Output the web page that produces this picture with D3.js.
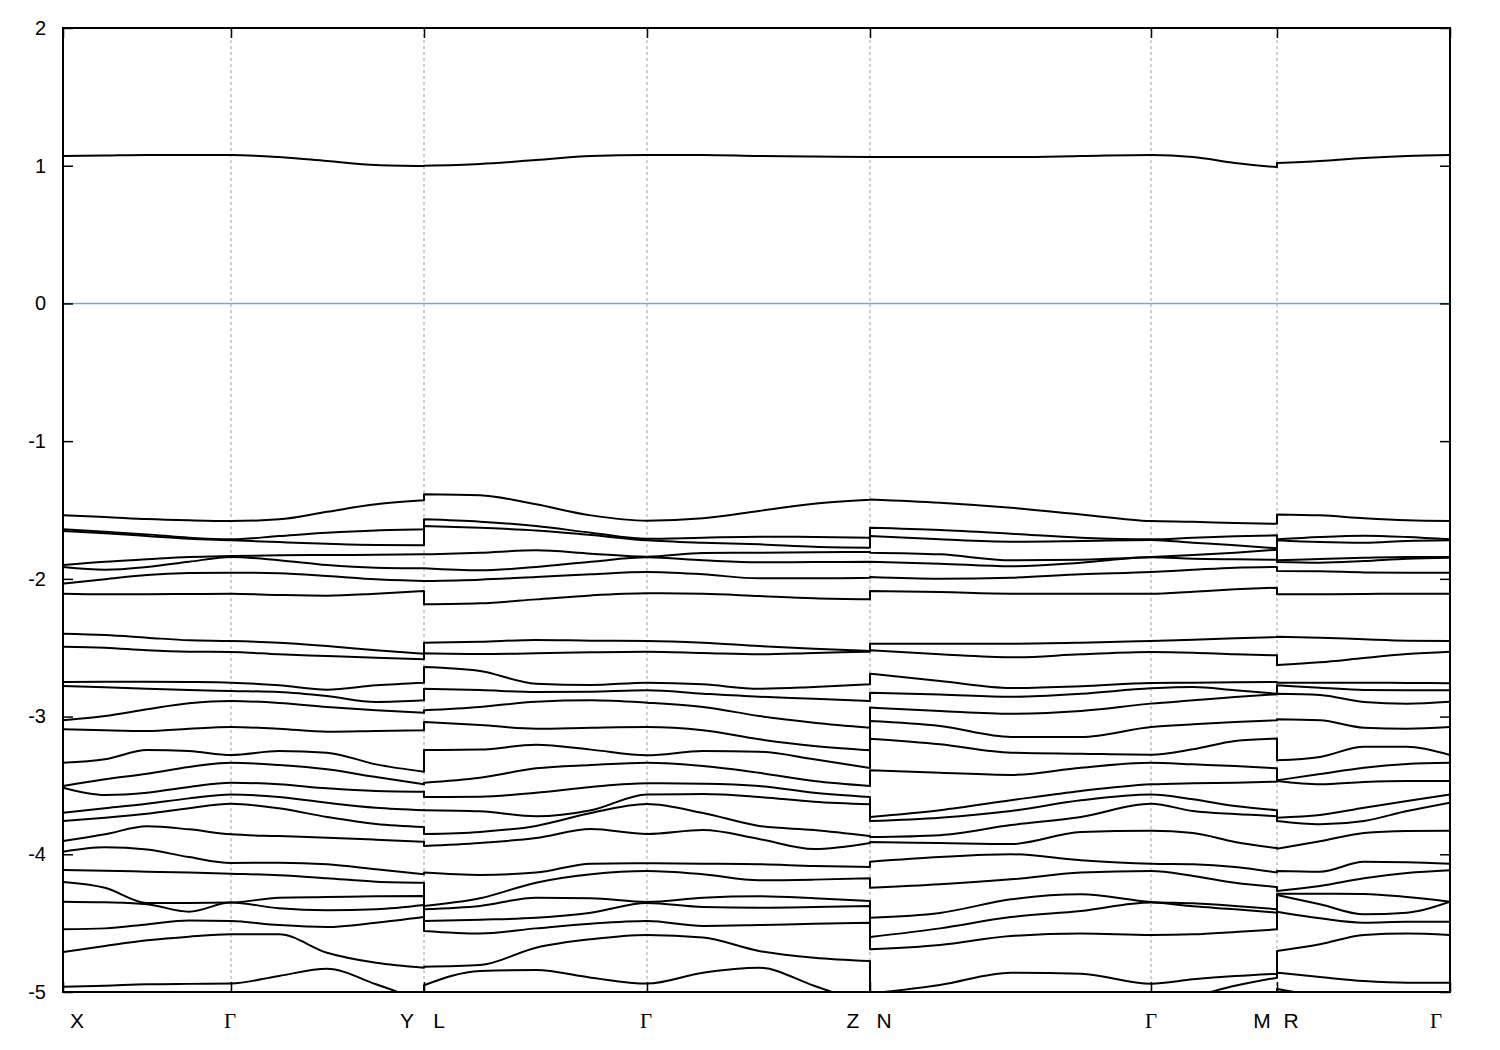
<!DOCTYPE html>
<html><head><meta charset="utf-8">
<script src="https://cdn.jsdelivr.net/npm/d3@7"></script>
<style>body{margin:0;background:#fff}</style>
</head><body><svg id="c" width="1500" height="1050"></svg>
<script>
// k-path sample positions per segment
const kXGY = [0, 0.42, 0.84, 1.26, 1.68, 2.16, 2.64, 3.13, 3.61];
const kLGZ = [3.61, 4.17, 4.73, 5.28, 5.84, 6.40, 6.96, 7.51, 8.07];
const kNGM = [8.07, 8.77, 9.48, 10.18, 10.88, 11.30, 11.72, 12.14];
const kRG  = [12.14, 12.57, 13.01, 13.44, 13.87];

// band energies (eV), band 0 = conduction band
const bandsXGY = [
 [1.070,1.074,1.078,1.078,1.078,1.063,1.034,1.005,0.998],
 [-1.539,-1.551,-1.566,-1.575,-1.580,-1.568,-1.513,-1.459,-1.430],
 [-1.640,-1.658,-1.677,-1.701,-1.713,-1.689,-1.665,-1.648,-1.640],
 [-1.653,-1.669,-1.689,-1.709,-1.720,-1.733,-1.745,-1.754,-1.756],
 [-1.900,-1.876,-1.858,-1.841,-1.834,-1.829,-1.827,-1.825,-1.822],
 [-1.914,-1.934,-1.914,-1.876,-1.841,-1.865,-1.900,-1.919,-1.923],
 [-2.035,-2.003,-1.972,-1.958,-1.955,-1.960,-1.979,-2.003,-2.016],
 [-2.108,-2.112,-2.112,-2.110,-2.108,-2.117,-2.122,-2.108,-2.088],
 [-2.398,-2.408,-2.427,-2.446,-2.451,-2.464,-2.488,-2.519,-2.544],
 [-2.493,-2.500,-2.519,-2.529,-2.531,-2.548,-2.560,-2.573,-2.584],
 [-2.749,-2.747,-2.747,-2.749,-2.754,-2.773,-2.805,-2.773,-2.754],
 [-2.778,-2.787,-2.798,-2.807,-2.814,-2.822,-2.851,-2.894,-2.882],
 [-3.027,-2.996,-2.947,-2.904,-2.887,-2.901,-2.930,-2.954,-2.972],
 [-3.092,-3.100,-3.105,-3.088,-3.076,-3.088,-3.110,-3.105,-3.100],
 [-3.335,-3.310,-3.243,-3.250,-3.279,-3.250,-3.262,-3.347,-3.400],
 [-3.504,-3.455,-3.415,-3.366,-3.335,-3.352,-3.383,-3.439,-3.492],
 [-3.516,-3.569,-3.553,-3.511,-3.480,-3.492,-3.521,-3.540,-3.545],
 [-3.698,-3.666,-3.633,-3.594,-3.565,-3.584,-3.626,-3.662,-3.680],
 [-3.758,-3.734,-3.705,-3.666,-3.633,-3.666,-3.729,-3.780,-3.802],
 [-3.904,-3.855,-3.797,-3.819,-3.855,-3.868,-3.880,-3.894,-3.909],
 [-3.981,-3.949,-3.966,-4.020,-4.063,-4.061,-4.072,-4.109,-4.145],
 [-4.114,-4.119,-4.126,-4.133,-4.141,-4.152,-4.174,-4.199,-4.206],
 [-4.201,-4.243,-4.353,-4.353,-4.351,-4.315,-4.310,-4.305,-4.302],
 [-4.344,-4.349,-4.363,-4.417,-4.351,-4.392,-4.406,-4.399,-4.368],
 [-4.545,-4.538,-4.509,-4.480,-4.485,-4.514,-4.528,-4.497,-4.456],
 [-4.710,-4.666,-4.625,-4.598,-4.581,-4.581,-4.715,-4.788,-4.824],
 [-4.961,-4.954,-4.944,-4.941,-4.939,-4.883,-4.832,-4.944,-5.070],
 [-5.200,-5.200,-5.200,-5.200,-5.200,-5.200,-5.200,-5.200,-5.200]
];
const bandsLGZ = [
 [1.000,1.013,1.041,1.070,1.078,1.078,1.070,1.067,1.063],
 [-1.386,-1.393,-1.459,-1.539,-1.578,-1.560,-1.507,-1.454,-1.425],
 [-1.568,-1.585,-1.616,-1.665,-1.709,-1.701,-1.694,-1.696,-1.701],
 [-1.616,-1.629,-1.648,-1.682,-1.720,-1.738,-1.749,-1.767,-1.774],
 [-1.822,-1.810,-1.793,-1.817,-1.839,-1.812,-1.810,-1.807,-1.805],
 [-1.923,-1.938,-1.914,-1.876,-1.844,-1.865,-1.880,-1.878,-1.876],
 [-2.016,-2.006,-1.987,-1.967,-1.950,-1.967,-1.996,-1.996,-1.992],
 [-2.185,-2.178,-2.149,-2.120,-2.105,-2.108,-2.125,-2.141,-2.149],
 [-2.464,-2.456,-2.444,-2.449,-2.451,-2.464,-2.488,-2.507,-2.524],
 [-2.541,-2.546,-2.541,-2.533,-2.529,-2.538,-2.548,-2.538,-2.529],
 [-2.640,-2.669,-2.762,-2.771,-2.754,-2.766,-2.798,-2.785,-2.766],
 [-2.798,-2.807,-2.822,-2.819,-2.809,-2.834,-2.856,-2.870,-2.887],
 [-2.954,-2.930,-2.892,-2.882,-2.899,-2.930,-2.996,-3.044,-3.081],
 [-3.039,-3.061,-3.088,-3.081,-3.076,-3.100,-3.165,-3.214,-3.245],
 [-3.243,-3.240,-3.205,-3.240,-3.281,-3.250,-3.255,-3.310,-3.373],
 [-3.480,-3.444,-3.376,-3.352,-3.335,-3.359,-3.408,-3.468,-3.504],
 [-3.584,-3.582,-3.553,-3.511,-3.484,-3.487,-3.504,-3.553,-3.584],
 [-3.680,-3.688,-3.724,-3.680,-3.565,-3.563,-3.584,-3.618,-3.637],
 [-3.853,-3.838,-3.794,-3.700,-3.635,-3.700,-3.794,-3.824,-3.868],
 [-3.940,-3.918,-3.882,-3.817,-3.853,-3.824,-3.889,-3.962,-3.918],
 [-4.133,-4.150,-4.133,-4.068,-4.065,-4.068,-4.072,-4.085,-4.092],
 [-4.375,-4.319,-4.206,-4.145,-4.121,-4.145,-4.189,-4.184,-4.174],
 [-4.399,-4.375,-4.315,-4.319,-4.346,-4.315,-4.305,-4.319,-4.339],
 [-4.485,-4.475,-4.461,-4.424,-4.354,-4.383,-4.388,-4.383,-4.375],
 [-4.557,-4.576,-4.538,-4.504,-4.485,-4.521,-4.514,-4.504,-4.497],
 [-4.816,-4.804,-4.678,-4.617,-4.586,-4.605,-4.702,-4.751,-4.775],
 [-4.951,-4.847,-4.840,-4.896,-4.939,-4.860,-4.824,-4.955,-5.100],
 [-5.200,-5.200,-5.200,-5.200,-5.200,-5.200,-5.200,-5.200,-5.200]
];
const bandsNGM = [
 [1.063,1.063,1.063,1.070,1.078,1.063,1.020,0.990],
 [-1.423,-1.447,-1.484,-1.532,-1.580,-1.585,-1.595,-1.600],
 [-1.629,-1.645,-1.672,-1.701,-1.713,-1.701,-1.691,-1.684],
 [-1.689,-1.713,-1.730,-1.725,-1.718,-1.738,-1.756,-1.778],
 [-1.810,-1.822,-1.865,-1.861,-1.841,-1.827,-1.810,-1.788],
 [-1.876,-1.890,-1.909,-1.883,-1.844,-1.854,-1.858,-1.861],
 [-1.987,-1.999,-1.992,-1.967,-1.950,-1.934,-1.919,-1.914],
 [-2.088,-2.096,-2.108,-2.108,-2.108,-2.093,-2.076,-2.064],
 [-2.471,-2.471,-2.471,-2.464,-2.451,-2.442,-2.432,-2.422],
 [-2.519,-2.548,-2.570,-2.548,-2.531,-2.536,-2.548,-2.555],
 [-2.689,-2.742,-2.793,-2.780,-2.756,-2.754,-2.751,-2.749],
 [-2.827,-2.839,-2.856,-2.834,-2.795,-2.785,-2.809,-2.834],
 [-2.935,-2.959,-2.979,-2.959,-2.906,-2.882,-2.858,-2.838],
 [-3.032,-3.068,-3.148,-3.148,-3.076,-3.056,-3.039,-3.027],
 [-3.161,-3.201,-3.262,-3.270,-3.277,-3.238,-3.177,-3.159],
 [-3.390,-3.408,-3.424,-3.371,-3.335,-3.347,-3.359,-3.376],
 [-3.729,-3.680,-3.608,-3.540,-3.492,-3.484,-3.480,-3.473],
 [-3.758,-3.734,-3.686,-3.608,-3.565,-3.601,-3.650,-3.680],
 [-3.875,-3.861,-3.788,-3.729,-3.633,-3.686,-3.708,-3.723],
 [-3.911,-3.918,-3.926,-3.839,-3.830,-3.846,-3.911,-3.955],
 [-4.054,-4.020,-4.000,-4.043,-4.068,-4.072,-4.092,-4.133],
 [-4.243,-4.218,-4.182,-4.133,-4.121,-4.157,-4.206,-4.238],
 [-4.461,-4.426,-4.327,-4.291,-4.346,-4.356,-4.375,-4.399],
 [-4.601,-4.538,-4.456,-4.412,-4.351,-4.378,-4.399,-4.424],
 [-4.690,-4.658,-4.593,-4.576,-4.586,-4.581,-4.564,-4.545],
 [-5.012,-4.949,-4.860,-4.867,-4.940,-4.908,-4.884,-4.867],
 [-5.150,-5.150,-5.150,-5.120,-5.080,-5.030,-4.955,-4.896],
 [-5.200,-5.200,-5.200,-5.200,-5.200,-5.200,-5.200,-5.200]
];
const bandsRG = [
 [1.020,1.034,1.056,1.070,1.078],
 [-1.532,-1.539,-1.560,-1.575,-1.580],
 [-1.713,-1.696,-1.687,-1.696,-1.713],
 [-1.720,-1.733,-1.738,-1.725,-1.720],
 [-1.865,-1.856,-1.847,-1.841,-1.841],
 [-1.878,-1.883,-1.871,-1.854,-1.847],
 [-1.943,-1.945,-1.953,-1.955,-1.955],
 [-2.112,-2.112,-2.110,-2.108,-2.108],
 [-2.420,-2.427,-2.439,-2.449,-2.451],
 [-2.626,-2.606,-2.575,-2.546,-2.529],
 [-2.754,-2.754,-2.754,-2.756,-2.758],
 [-2.773,-2.790,-2.807,-2.809,-2.809],
 [-2.834,-2.843,-2.894,-2.906,-2.892],
 [-3.020,-3.027,-3.081,-3.088,-3.076],
 [-3.317,-3.293,-3.219,-3.219,-3.279],
 [-3.463,-3.417,-3.371,-3.344,-3.335],
 [-3.468,-3.492,-3.475,-3.468,-3.468],
 [-3.734,-3.715,-3.662,-3.613,-3.565],
 [-3.758,-3.782,-3.758,-3.686,-3.625],
 [-3.960,-3.906,-3.846,-3.831,-3.829],
 [-4.121,-4.126,-4.054,-4.058,-4.068],
 [-4.266,-4.230,-4.174,-4.136,-4.116],
 [-4.286,-4.286,-4.288,-4.310,-4.344],
 [-4.296,-4.363,-4.436,-4.424,-4.344],
 [-4.417,-4.465,-4.497,-4.490,-4.490],
 [-4.702,-4.653,-4.586,-4.576,-4.586],
 [-4.860,-4.891,-4.920,-4.932,-4.932],
 [-4.979,-5.030,-5.064,-5.140,-5.150]
];

const tickK = [0, 1.68, 3.61, 5.84, 8.07, 10.88, 12.14, 13.87];
const gridK = [1.68, 3.61, 5.84, 8.07, 10.88, 12.14];
const labelText = ["X","\u0393","Y","L","\u0393","Z","N","\u0393","M","R","\u0393"];
const labelK = [0.14, 1.67, 3.44, 3.76, 5.83, 7.90, 8.21, 10.88, 11.99, 12.28, 13.73];
const yTicks = [-5,-4,-3,-2,-1,0,1,2];
const fermiLevel = 0;

const svg = d3.select("#c");
const x = d3.scaleLinear().domain([0, 13.87]).range([63, 1450]);
const y = d3.scaleLinear().domain([-5, 2]).range([992, 28]);
const [x0, x1] = x.range(), [y0, y1] = y.range();

svg.append("defs").append("clipPath").attr("id","clip")
  .append("rect").attr("x",x0).attr("y",y1).attr("width",x1-x0).attr("height",y0-y1);

// vertical dashed grid at high-symmetry points
svg.append("g").selectAll("line").data(gridK).join("line")
  .attr("x1",d=>x(d)).attr("x2",d=>x(d)).attr("y1",y1).attr("y2",y0)
  .attr("stroke","#a0a0a0").attr("stroke-width",1).attr("stroke-dasharray","3,3");

// Fermi level
svg.append("line").attr("x1",x0).attr("x2",x1)
  .attr("y1",y(fermiLevel)).attr("y2",y(fermiLevel))
  .attr("stroke","#56b4e9").attr("stroke-width",1.5);

// bands
const segK = [kXGY, kLGZ, kNGM, kRG];
const segB = [bandsXGY, bandsLGZ, bandsNGM, bandsRG];
const line = d3.line().x(d=>x(d[0])).y(d=>y(d[1])).curve(d3.curveMonotoneX);
const nb = bandsXGY.length;
const gB = svg.append("g").attr("clip-path","url(#clip)");
for (let b = 0; b < nb; b++) {
  const parts = segK.map((ks, s) => line(ks.map((k, i) => [k, segB[s][b][i]])));
  const d = parts.map((p, i) => i === 0 ? p : "L" + p.slice(1)).join("");
  gB.append("path").attr("d", d).attr("fill","none")
    .attr("stroke","#000").attr("stroke-width",2).attr("stroke-linejoin","round");
}

// axes (inward ticks)
const font = "'Liberation Sans', Arial, sans-serif";
const yl = svg.append("g").attr("transform",`translate(${x0},0)`)
  .call(d3.axisLeft(y).tickValues(yTicks).tickSize(-10).tickPadding(17).tickFormat(d3.format("d")));
const yr = svg.append("g").attr("transform",`translate(${x1},0)`)
  .call(d3.axisRight(y).tickValues(yTicks).tickSize(-10).tickFormat(""));
const xb = svg.append("g").attr("transform",`translate(0,${y0})`)
  .call(d3.axisBottom(x).tickValues(tickK).tickSize(-10).tickFormat(""));
const xt = svg.append("g").attr("transform",`translate(0,${y1})`)
  .call(d3.axisTop(x).tickValues(tickK).tickSize(-10).tickFormat(""));
[yl, yr, xb, xt].forEach(g => {
  g.select(".domain").remove();
  g.selectAll(".tick line").attr("stroke","#000").attr("stroke-width",1.5);
});
yl.selectAll("text").attr("font-family",font).attr("font-size",20).attr("fill","#000")
  .text(d => d < 0 ? "-" + Math.abs(d) : d);

// frame
svg.append("rect").attr("x",x0).attr("y",y1).attr("width",x1-x0).attr("height",y0-y1)
  .attr("fill","none").attr("stroke","#000").attr("stroke-width",2);

// k-point labels
svg.append("g").selectAll("text").data(labelText).join("text")
  .attr("x",(d,i)=>x(labelK[i])).attr("y",1028)
  .attr("text-anchor","middle")
  .attr("font-family",d => d === "\u0393" ? "'Liberation Serif', 'Times New Roman', serif" : font)
  .attr("font-size",21).attr("fill","#000").text(d=>d);
</script></body></html>
